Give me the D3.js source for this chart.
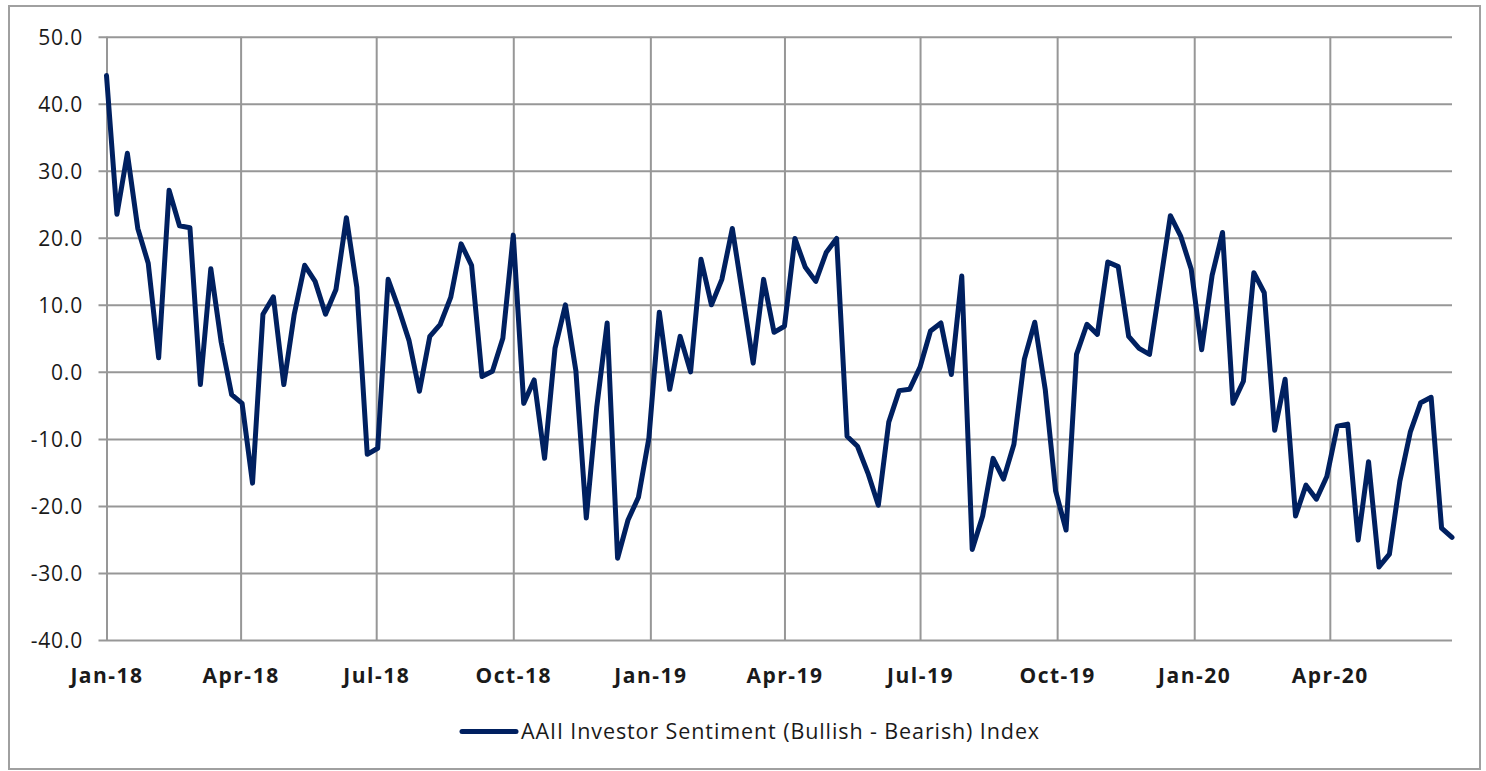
<!DOCTYPE html>
<html>
<head>
<meta charset="utf-8">
<script src="https://cdn.jsdelivr.net/npm/d3@7/dist/d3.min.js"></script>
<style>
  html, body { margin: 0; padding: 0; background: #fff; }
  svg { display: block; }
</style>
</head>
<body>
<svg id="chart" width="1486" height="771"></svg>
<script>
// ---- Data (weekly AAII readings, first survey week 2018-01-04) ----
const seriesName = "AAII Investor Sentiment (Bullish - Bearish) Index";
const firstWeek = "2018-01-04";
const values2018 = [44.2, 23.5, 32.6, 21.4, 16.2, 2.1, 27.1, 21.8, 21.5, -1.9, 15.4, 4.4, -3.4,
  -4.7, -16.6, 8.6, 11.2, -1.9, 8.6, 15.9, 13.5, 8.6, 12.3, 23.0, 12.6, -12.3,
  -11.4, 13.8, 9.5, 4.7, -2.9, 5.3, 7.1, 11.1, 19.1, 15.9, -0.7, 0.1, 5.0,
  20.4, -4.7, -1.2, -12.9, 3.5, 10.0, 0.2, -21.8, -5.3, 7.3, -27.8, -22.1, -18.7];
const values2019 = [-9.9, 8.9, -2.6, 5.3, 0.0, 16.8, 10.0, 13.8, 21.4, 11.4, 1.3, 13.8, 5.9,
  6.8, 19.9, 15.6, 13.5, 17.8, 19.9, -9.6, -11.1, -15.1, -19.9, -7.5, -2.8, -2.6,
  0.7, 6.1, 7.3, -0.4, 14.3, -26.5, -21.5, -12.9, -16.0, -10.8, 1.9, 7.4, -2.6,
  -17.8, -23.6, 2.6, 7.1, 5.6, 16.4, 15.7, 5.3, 3.5, 2.6, 12.9, 23.3, 20.2];
const values2020 = [15.3, 3.3, 14.4, 20.8, -4.7, -1.4, 14.8, 11.8, -8.7, -1.1, -21.5, -16.9, -19.0,
  -15.6, -8.1, -7.8, -25.1, -13.4, -29.1, -27.2, -16.3, -9.0, -4.6, -3.8, -23.3, -24.7];
const yTickValues = [50, 40, 30, 20, 10, 0, -10, -20, -30, -40];
const xTickLabels = ["Jan-18", "Apr-18", "Jul-18", "Oct-18", "Jan-19", "Apr-19",
  "Jul-19", "Oct-19", "Jan-20", "Apr-20"];

// ---- Build ----
const allValues = values2018.concat(values2019, values2020);
const start = d3.utcParse("%Y-%m-%d")(firstWeek);
const data = allValues.map((v, i) => ({ date: d3.utcWeek.offset(start, i), value: v }));
const parseLabel = d3.utcParse("%b-%y");
// Excel date axis: major ticks every 3 months counted from the first date
const xTicks = xTickLabels.map(l => {
  const d = parseLabel(l);
  return new Date(Date.UTC(d.getUTCFullYear(), d.getUTCMonth(), start.getUTCDate()));
});

const svg = d3.select("#chart");
const W = 1486, H = 771;
const plot = { left: 106.5, right: 1452, top: 36.7, bottom: 640 };
const FONT = "'Open Sans', 'Noto Sans', sans-serif";

svg.append("rect").attr("x", 0).attr("y", 0).attr("width", W).attr("height", H).attr("fill", "#fff");
svg.append("rect").attr("x", 9).attr("y", 6).attr("width", 1471).attr("height", 763)
  .attr("fill", "none").attr("stroke", "#a0a0a0").attr("stroke-width", 2);

const x = d3.scaleUtc()
  .domain(d3.extent(data, d => d.date))
  .range([plot.left, plot.right]);
const y = d3.scaleLinear().domain([-40, 50]).range([plot.bottom, plot.top]);

const gridColor = "#979797";
const fmt = d3.format(".1f");

// horizontal gridlines + left ticks + labels
const yAxis = d3.axisLeft(y).tickValues(yTickValues)
  .tickSize(-(plot.right - plot.left))
  .tickFormat(d => fmt(d).replace("\u2212", "-"));
const gy = svg.append("g").attr("transform", `translate(${plot.left},0)`).call(yAxis);
gy.select(".domain").remove();
gy.selectAll(".tick line").attr("stroke", gridColor).attr("stroke-width", 2)
  .attr("x1", -8).attr("x2", plot.right - plot.left);
gy.selectAll(".tick text")
  .attr("fill", "#1a1a1a").attr("font-family", FONT)
  .attr("font-size", 21).attr("letter-spacing", 0.8)
  .attr("dy", "0.35em").attr("x", -23.5);

// vertical gridlines + labels
const xAxis = d3.axisBottom(x).tickValues(xTicks)
  .tickSize(-(plot.bottom - plot.top))
  .tickFormat((d, i) => xTickLabels[i]);
const gx = svg.append("g").attr("transform", `translate(0,${plot.bottom})`).call(xAxis);
gx.select(".domain").remove();
gx.selectAll(".tick line").attr("stroke", gridColor).attr("stroke-width", 2);
gx.selectAll(".tick text")
  .attr("fill", "#1a1a1a").attr("font-family", FONT)
  .attr("font-size", 21).attr("font-weight", "bold").attr("letter-spacing", 1.5)
  .attr("y", 43).attr("dy", 0);

// the line
const line = d3.line().x(d => x(d.date)).y(d => y(d.value));
svg.append("path").datum(data)
  .attr("d", line)
  .attr("fill", "none")
  .attr("stroke", "#002060")
  .attr("stroke-width", 5)
  .attr("stroke-linejoin", "round")
  .attr("stroke-linecap", "round");

// legend
const lg = svg.append("g");
lg.append("line").attr("x1", 462).attr("x2", 516).attr("y1", 731.5).attr("y2", 731.5)
  .attr("stroke", "#002060").attr("stroke-width", 5).attr("stroke-linecap", "round");
lg.append("text").attr("x", 521).attr("y", 731.5).attr("dy", "0.36em")
  .attr("font-family", FONT).attr("font-size", 21.5).attr("letter-spacing", 0.9)
  .attr("fill", "#1a1a1a").text(seriesName);
</script>
</body>
</html>
